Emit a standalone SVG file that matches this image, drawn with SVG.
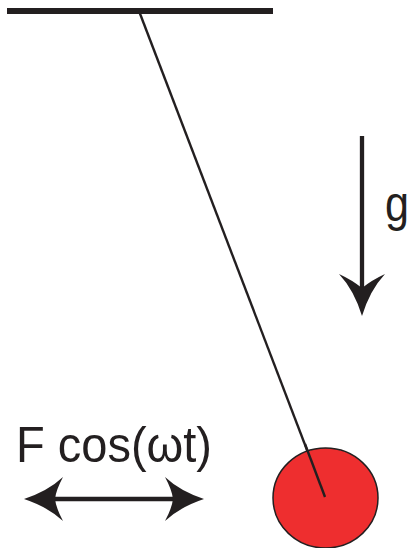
<svg xmlns="http://www.w3.org/2000/svg" width="412" height="548" viewBox="0 0 412 548">
<style>
.ink{fill:#231f20}
.txt{font-family:"Liberation Sans",Arial,sans-serif;fill:#231f20}
</style>
<rect width="412" height="548" fill="#ffffff"/>
<g id="support">
<rect x="7" y="8" width="266" height="6" class="ink"/>
</g>
<g id="connectors">
<line x1="139" y1="11" x2="325" y2="497" stroke="#231f20" stroke-width="2.4"/>
</g>
<g id="bob">
<ellipse cx="325.5" cy="498" rx="52.5" ry="50" fill="#ee2e2f" stroke="#231f20" stroke-width="1.5"/>
<line x1="305" y1="444" x2="325" y2="497" stroke="#231f20" stroke-width="2.4"/>
</g>
<g id="gravity">
<line x1="362" y1="136" x2="362" y2="290" stroke="#231f20" stroke-width="4.3"/>
<path d="M362,316 Q354,290 339,274 Q352,280 362,288 Q372,280 385,274 Q370,290 362,316 Z" class="ink"/>
<text x="385" y="221" class="txt" font-size="50" textLength="24" lengthAdjust="spacingAndGlyphs">g</text>
</g>
<g id="force">
<text x="16" y="462" class="txt" font-size="50" textLength="196" lengthAdjust="spacingAndGlyphs">F cos(ωt)</text>
<line x1="50" y1="499" x2="178" y2="499" stroke="#231f20" stroke-width="4.3"/>
<path d="M24,499 Q48,491 63,477 Q56,490 55,499 Q56,508 63,521 Q48,507 24,499 Z" class="ink"/>
<path d="M204,499 Q180,491 165,477 Q172,490 173,499 Q172,508 165,521 Q180,507 204,499 Z" class="ink"/>
</g>
</svg>
